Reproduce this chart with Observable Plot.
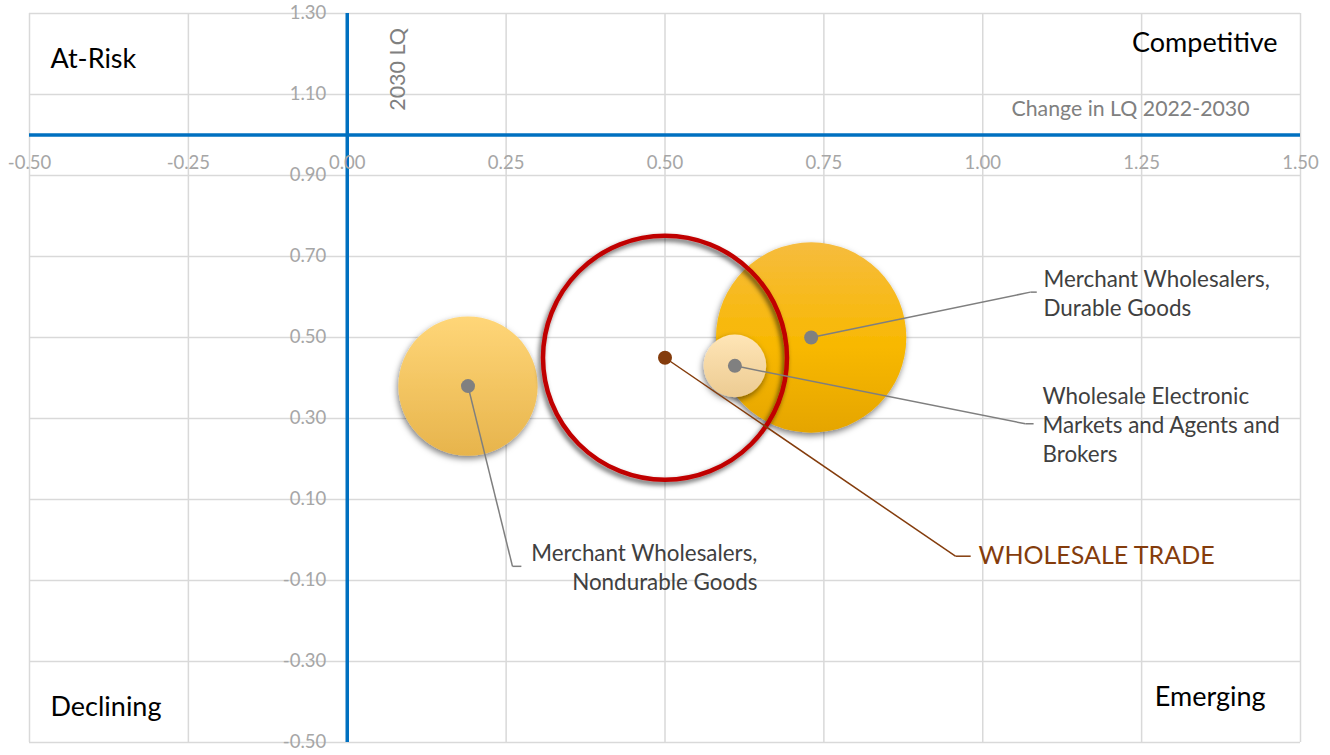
<!DOCTYPE html>
<html>
<head>
<meta charset="utf-8">
<script src="https://cdn.jsdelivr.net/npm/d3@7"></script>
<script src="https://cdn.jsdelivr.net/npm/@observablehq/plot@0.6"></script>
<style>
  html, body { margin: 0; padding: 0; background: #fff; }
  #chart svg { display: block; }
</style>
</head>
<body>
<div id="chart"></div>
<script>
// ---------- DATA ----------
const categories = [
  "Merchant Wholesalers, Nondurable Goods",
  "Merchant Wholesalers, Durable Goods",
  "Wholesale Electronic Markets and Agents and Brokers",
  "WHOLESALE TRADE"
];
const lqChange   = [0.19, 0.73, 0.61, 0.50];   // x: Change in LQ 2022-2030
const lq2030     = [0.38, 0.50, 0.43, 0.45];   // y: 2030 LQ
const employment = [5200, 9700, 1050, 15950];  // bubble size
const labelText = [
  "Merchant Wholesalers,\nNondurable Goods",
  "Merchant Wholesalers,\nDurable Goods",
  "Wholesale Electronic\nMarkets and Agents and\nBrokers",
  "WHOLESALE TRADE"
];
const xTicks = [-0.5, -0.25, 0, 0.25, 0.5, 0.75, 1.0, 1.25, 1.5];
const yTicks = [-0.5, -0.3, -0.1, 0.1, 0.3, 0.5, 0.7, 0.9, 1.1, 1.3];
const quadrantNames = ["At-Risk", "Competitive", "Declining", "Emerging"];
const xTitle = "Change in LQ 2022-2030";
const yTitle = "2030 LQ";

// ---------- ANNOTATION PLACEMENT (data units) ----------
const elbowX = [0.260, 1.075, 1.067, 0.957];
const elbowY = [-0.065, 0.612, 0.287, -0.040];
const segLen = [0.014, 0.010, 0.013, 0.024];
const textX  = [0.6455, 1.0956, 1.094, 0.9933];
const textAnchorOf = ["end", "start", "start", "start"];
const quadX  = [-0.467, 1.464, -0.467, 1.445];
const quadY  = [1.186, 1.226, -0.414, -0.389];
const quadAnchor = ["start", "end", "start", "end"];

// ---------- BUILD ----------
const rows = categories.map((c, i) => ({
  name: c, x: lqChange[i], y: lq2030[i], emp: employment[i],
  label: labelText[i], ex: elbowX[i], ey: elbowY[i],
  sx: elbowX[i] + segLen[i], tx: textX[i], anchor: textAnchorOf[i]
}));
const TOTAL = "WHOLESALE TRADE";
const parts = rows.filter(d => d.name !== TOTAL);
const total = rows.filter(d => d.name === TOTAL);
const gradFor = {
  "Merchant Wholesalers, Nondurable Goods": "url(#gNon)",
  "Merchant Wholesalers, Durable Goods": "url(#gDur)",
  "Wholesale Electronic Markets and Agents and Brokers": "url(#gEle)"
};
const quads = quadrantNames.map((q, i) => ({q, x: quadX[i], y: quadY[i], a: quadAnchor[i]}));

const FONT = "Lato, 'Open Sans', sans-serif";
const fmt = d => d.toFixed(2);

function defs() {
  const d = d3.create("svg:defs");
  const grads = [
    ["gNon", [["0%", "#FFD678"], ["100%", "#E7B44C"]]],
    ["gDur", [["0%", "#F6BC3E"], ["55%", "#F8B800"], ["100%", "#E5A500"]]],
    ["gEle", [["0%", "#FFE5B6"], ["100%", "#ECCB92"]]]
  ];
  for (const [id, stops] of grads) {
    const g = d.append("linearGradient").attr("id", id)
      .attr("x1", 0).attr("y1", 0).attr("x2", 0).attr("y2", 1);
    for (const [o, c] of stops) g.append("stop").attr("offset", o).attr("stop-color", c);
  }
  const f = d.append("filter").attr("id", "shadow")
    .attr("x", "-20%").attr("y", "-20%").attr("width", "140%").attr("height", "140%");
  f.append("feDropShadow").attr("dx", -1).attr("dy", 3).attr("stdDeviation", 3)
    .attr("flood-color", "#000").attr("flood-opacity", 0.5);
  const f2 = d.append("filter").attr("id", "shadowRing")
    .attr("x", "-20%").attr("y", "-20%").attr("width", "140%").attr("height", "140%");
  f2.append("feDropShadow").attr("dx", -2).attr("dy", 3).attr("stdDeviation", 2.5)
    .attr("flood-color", "#000").attr("flood-opacity", 0.65);
  return d.node();
}

const chart = Plot.plot({
  width: 1330,
  height: 755,
  marginLeft: 29,
  marginRight: 30,
  marginTop: 13,
  marginBottom: 13,
  x: {domain: [-0.5, 1.5], axis: null},
  y: {domain: [-0.5, 1.3], axis: null},
  r: {type: "sqrt", domain: [0, 15950], range: [0, 122]},
  color: {type: "identity"},
  style: {fontFamily: FONT, background: "#fff", overflow: "visible"},
  marks: [
    defs,
    // grid
    Plot.ruleX(xTicks, {x: d => d, stroke: "#D9D9D9", strokeWidth: 1.5}),
    Plot.ruleY(yTicks, {y: d => d, stroke: "#D9D9D9", strokeWidth: 1.5}),
    // quadrant axes
    Plot.ruleX([0], {stroke: "#0070C0", strokeWidth: 3.5}),
    Plot.ruleY([1.0], {stroke: "#0070C0", strokeWidth: 3.5}),
    // tick labels
    Plot.text(xTicks, {x: d => d, y: 1.0, text: fmt, dy: 28, fill: "#A6A6A6", fontSize: 18.5}),
    Plot.text(yTicks, {x: 0, y: d => d, text: fmt, dx: -21, textAnchor: "end", fill: "#A6A6A6", fontSize: 18.5}),
    // axis titles
    Plot.text([yTitle], {x: 0.0806, y: 1.162, text: d => d, rotate: -90, fill: "#808080", fontSize: 21.5}),
    Plot.text([xTitle], {x: 1.2325, y: 1.065, text: d => d, fill: "#808080", fontSize: 21.3}),
    // quadrant labels
    Plot.text(quads.filter(d => d.a === "start"), {x: "x", y: "y", text: "q", textAnchor: "start", fill: "#000", fontSize: 27}),
    Plot.text(quads.filter(d => d.a === "end"), {x: "x", y: "y", text: "q", textAnchor: "end", fill: "#000", fontSize: 27}),
    // bubbles
    Plot.dot(parts, {x: "x", y: "y", r: "emp", fill: d => gradFor[d.name], stroke: "none"}),
    Plot.dot(total, {x: "x", y: "y", r: "emp", fill: "none", stroke: "#C00000", strokeWidth: 4.5}),
    // leader lines
    Plot.link(parts, {x1: "x", y1: "y", x2: "ex", y2: "ey", stroke: "#7F7F7F", strokeWidth: 1.5}),
    Plot.link(parts, {x1: "ex", y1: "ey", x2: "sx", y2: "ey", stroke: "#7F7F7F", strokeWidth: 1.5}),
    Plot.link(total, {x1: "x", y1: "y", x2: "ex", y2: "ey", stroke: "#843C0C", strokeWidth: 1.5}),
    Plot.link(total, {x1: "ex", y1: "ey", x2: "sx", y2: "ey", stroke: "#843C0C", strokeWidth: 1.5}),
    // center markers
    Plot.dot(parts, {x: "x", y: "y", r: 7, fill: "#808080", stroke: "none"}),
    Plot.dot(total, {x: "x", y: "y", r: 7, fill: "#843C0C", stroke: "none"}),
    // labels
    Plot.text(parts.filter(d => d.anchor === "start"), {x: "tx", y: "ey", text: "label", textAnchor: "start", lineAnchor: "middle", lineHeight: 1.3, fill: "#404040", fontSize: 22.4}),
    Plot.text(parts.filter(d => d.anchor === "end"), {x: "tx", y: "ey", text: "label", textAnchor: "end", lineAnchor: "middle", lineHeight: 1.3, fill: "#404040", fontSize: 22.4}),
    Plot.text(total, {x: "tx", y: "ey", text: "label", textAnchor: "start", lineAnchor: "middle", fill: "#843C0C", fontSize: 25})
  ]
});

// soft shadows on the bubbles
d3.select(chart).selectAll("circle")
  .filter(function () { return +this.getAttribute("r") > 15; })
  .attr("filter", function () {
    return this.getAttribute("stroke") === "#C00000" || this.parentNode.getAttribute("stroke") === "#C00000"
      ? "url(#shadowRing)" : "url(#shadow)";
  });

document.getElementById("chart").appendChild(chart);
</script>
</body>
</html>
